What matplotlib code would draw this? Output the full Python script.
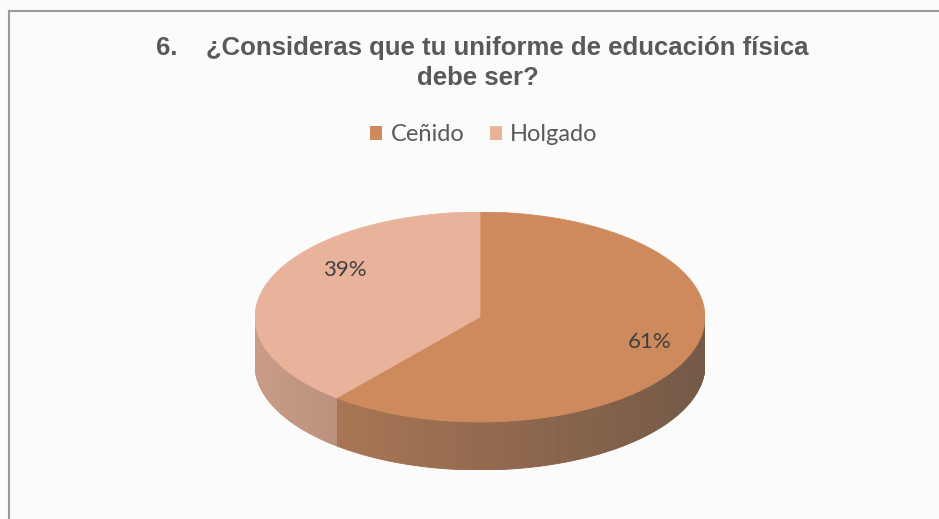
import numpy as np
import matplotlib
matplotlib.use('Agg')
import matplotlib.pyplot as plt
from matplotlib.patches import Polygon, Rectangle, Patch

categories = ['Ceñido', 'Holgado']
values = [61, 39]
labels = ['61%', '39%']
colors = ['#CE8A5D', '#E8B39A']
title_line1 = '6.    ¿Consideras que tu uniforme de educación física'
title_line2 = 'debe ser?'

W, H = 939, 519
fig = plt.figure(figsize=(W / 100, H / 100), dpi=100)
fig.patch.set_facecolor('#FBFBFB')
fig.add_artist(Rectangle((9 / W, -0.1), 1.2, (1 - 10.5 / H) + 0.1, transform=fig.transFigure,
                         fill=False, edgecolor='#9a9a9a', lw=1.5))

# pie axes (pseudo 3D)
rx_px, ry_px, depth_px = 225, 105, 48
cx_px, top_px = 480, 212
ax = fig.add_axes([(cx_px - rx_px) / W, 1 - (top_px + 2 * ry_px + depth_px) / H,
                   2 * rx_px / W, (2 * ry_px + depth_px) / H])
d = depth_px / ry_px
ax.set_xlim(-1, 1)
ax.set_ylim(-1 - d, 1)
ax.set_aspect('auto')
ax.axis('off')

dark = np.array([90, 75, 65]) / 255.0

def rgb(h):
    h = h.lstrip('#')
    return np.array([int(h[i:i + 2], 16) for i in (0, 2, 4)]) / 255.0

total = float(sum(values))
cum = 0.0
wedges = []
for v, c in zip(values, colors):
    t1 = 90 - cum / total * 360
    cum += v
    t2 = 90 - cum / total * 360
    wedges.append((t2, t1, c))  # increasing range

# sides
for lo, hi, c in wedges:
    base = rgb(c)
    for k in range(-2, 3):
        a = max(lo, -180 + 360 * k)
        b = min(hi, 360 * k)
        if b <= a:
            continue
        ts = np.linspace(a, b, max(2, int((b - a) / 1.0) + 1))
        for t_a, t_b in zip(ts[:-1], ts[1:]):
            ra, rb = np.radians(t_a), np.radians(t_b)
            xm = (np.cos(ra) + np.cos(rb)) / 2
            f = 0.22 + 0.56 * (xm + 1) / 2
            col = base * (1 - f) + dark * f
            poly = [(np.cos(ra), np.sin(ra)), (np.cos(rb), np.sin(rb)),
                    (np.cos(rb), np.sin(rb) - d), (np.cos(ra), np.sin(ra) - d)]
            ax.add_patch(Polygon(poly, closed=True, facecolor=col, edgecolor=col, lw=0.6, zorder=1))

# tops
for lo, hi, c in wedges:
    ts = np.radians(np.linspace(lo, hi, 300))
    pts = [(0, 0)] + list(zip(np.cos(ts), np.sin(ts)))
    ax.add_patch(Polygon(pts, closed=True, facecolor=c, edgecolor=c, lw=0.5, zorder=2))

# labels (perspective-adjusted placement on the mid angle)
for (lo, hi, c), lab in zip(wedges, labels):
    m = np.radians((lo + hi) / 2)
    ax.text(0.078 + 0.72 * np.cos(m), 0.105 + 1.01 * np.sin(m), lab, ha='center', va='center',
            fontsize=16, color='#404040', family='Lato', zorder=3)

# title
fig.text(482 / W, 1 - 48 / H, title_line1, ha='center', va='center', fontsize=18.5,
         weight='bold', color='#595959', family='Liberation Sans')
fig.text(478 / W, 1 - 78 / H, title_line2, ha='center', va='center', fontsize=18.5,
         weight='bold', color='#595959', family='Liberation Sans')

# legend
handles = [Patch(facecolor=c, edgecolor='none') for c in colors]
leg = fig.legend(handles, categories, loc='center', bbox_to_anchor=(484 / W, 1 - 135 / H),
                 ncol=2, frameon=False, handlelength=0.5, handleheight=0.5,
                 handletextpad=0.35, columnspacing=1.1,
                 prop={'family': 'Lato', 'size': 17})
for t in leg.get_texts():
    t.set_color('#595959')

fig.savefig('out.png', dpi=100, facecolor=fig.get_facecolor())
